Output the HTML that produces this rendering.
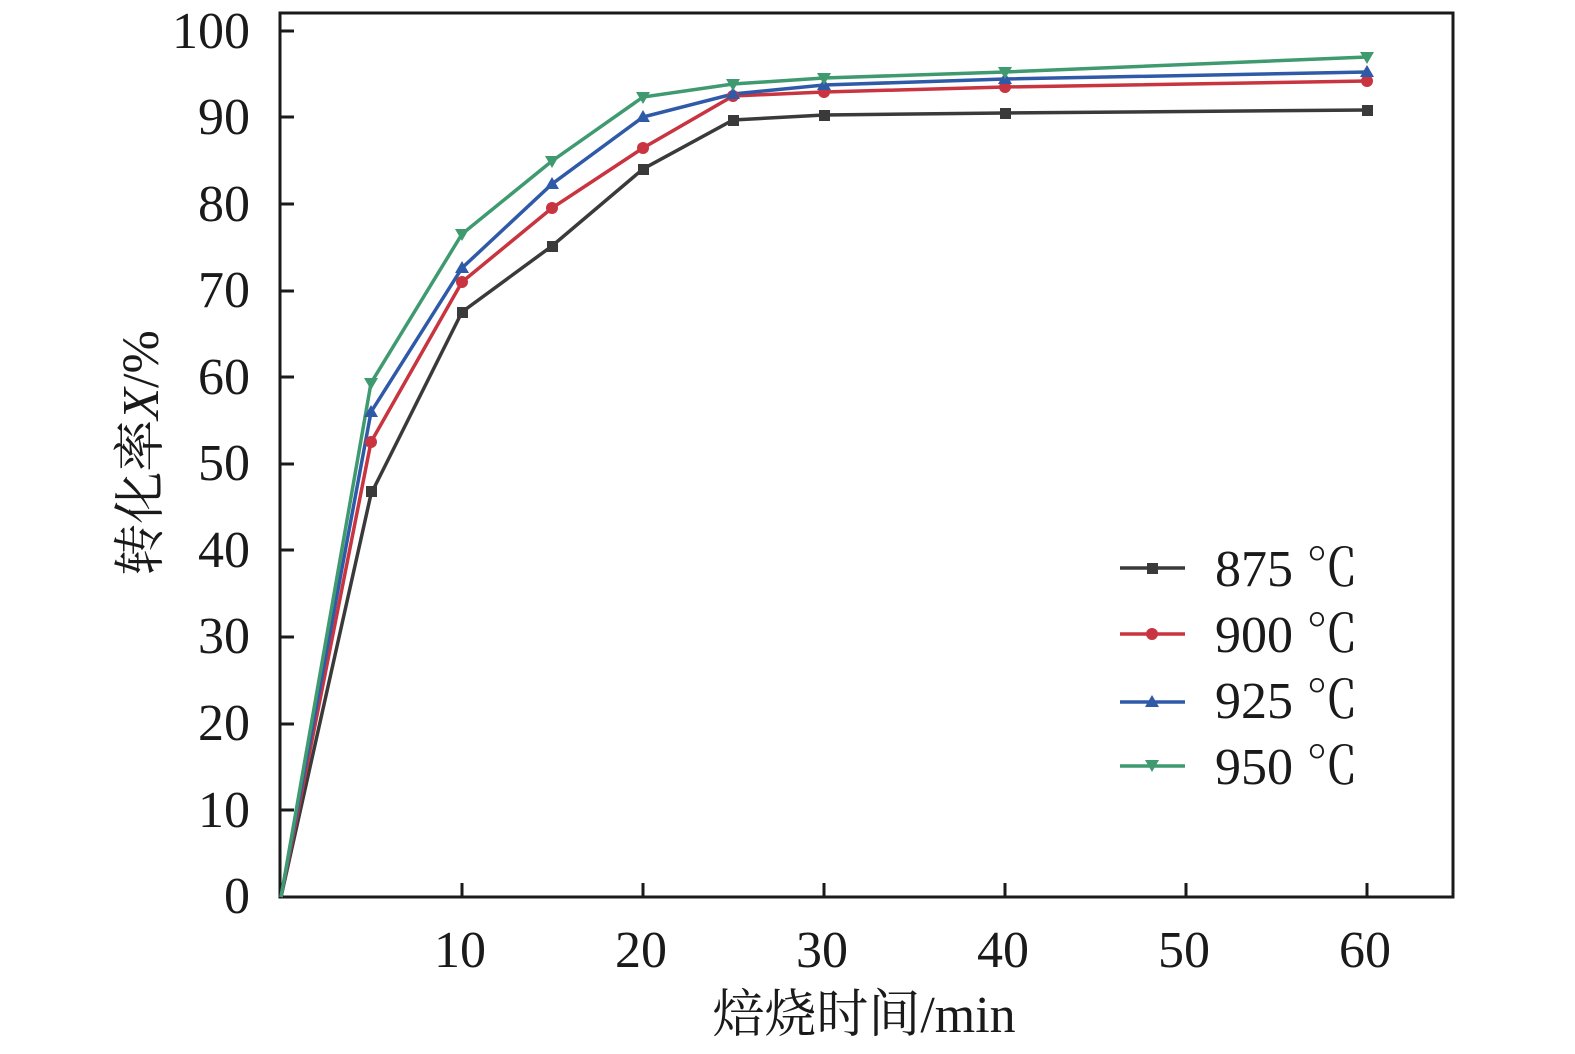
<!DOCTYPE html>
<html><head><meta charset="utf-8"><style>html,body{margin:0;padding:0;background:#fff}svg{display:block}</style></head><body>
<svg width="1575" height="1054" xmlns="http://www.w3.org/2000/svg" style="font-family:'Liberation Serif','Noto Serif CJK SC',serif">
<rect x="0" y="0" width="1575" height="1054" fill="#fff"/>
<g stroke="#1a1a1a" stroke-width="3" fill="none">
<rect x="280" y="13" width="1173" height="884"/>
<path d="M280 810h14M280 724h14M280 637h14M280 550h14M280 464h14M280 377h14M280 291h14M280 204h14M280 117h14M280 31h14"/>
<path d="M462 897v-14M643 897v-14M824 897v-14M1005 897v-14M1186 897v-14M1367 897v-14"/>
</g>
<g font-size="52" fill="#1a1a1a" text-anchor="end">
<text x="250" y="913">0</text><text x="250" y="827">10</text><text x="250" y="740">20</text><text x="250" y="653">30</text><text x="250" y="567">40</text><text x="250" y="480">50</text><text x="250" y="394">60</text><text x="250" y="307">70</text><text x="250" y="221">80</text><text x="250" y="134">90</text><text x="250" y="48">100</text>
</g>
<g font-size="52" fill="#1a1a1a" text-anchor="middle">
<text x="460" y="967">10</text><text x="641" y="967">20</text><text x="822" y="967">30</text><text x="1003" y="967">40</text><text x="1184" y="967">50</text><text x="1365" y="967">60</text>
<text x="864" y="1032">焙烧时间/min</text>
</g>
<text transform="translate(158,453) rotate(-90)" font-size="52" fill="#1a1a1a" text-anchor="middle">转化率<tspan font-style="italic">X</tspan>/%</text>
<g fill="none" stroke-width="3.5">
<polyline stroke="#3a3a3a" points="281,897 371,494 462,312 552,246 643,169 733,120 824,115 1005,113 1367,110"/>
<polyline stroke="#c8343f" points="281,897 371,442 462,282 552,208 643,148 733,96 824,92 1005,87 1367,81"/>
<polyline stroke="#2f5aa8" points="281,897 371,412 462,268 552,184 643,117 733,94 824,85 1005,79 1367,72"/>
<polyline stroke="#3f9a70" points="281,897 371,383 462,234 552,161 643,97 733,84 824,78 1005,72 1367,57"/>
</g>
<g fill="#3a3a3a"><rect x="366" y="486" width="11" height="11"/><rect x="457" y="307" width="11" height="11"/><rect x="547" y="241" width="11" height="11"/><rect x="638" y="164" width="11" height="11"/><rect x="728" y="115" width="11" height="11"/><rect x="819" y="110" width="11" height="11"/><rect x="1000" y="108" width="11" height="11"/><rect x="1362" y="105" width="11" height="11"/></g>
<g fill="#c8343f"><circle cx="371" cy="442" r="6"/><circle cx="462" cy="282" r="6"/><circle cx="552" cy="208" r="6"/><circle cx="643" cy="148" r="6"/><circle cx="733" cy="96" r="6"/><circle cx="824" cy="92" r="6"/><circle cx="1005" cy="87" r="6"/><circle cx="1367" cy="81" r="6"/></g>
<g fill="#2f5aa8"><path d="M371 405l7 12h-14zM462 261l7 12h-14zM552 177l7 12h-14zM643 110l7 12h-14zM733 87l7 12h-14zM824 78l7 12h-14zM1005 72l7 12h-14zM1367 65l7 12h-14z"/></g>
<g fill="#3f9a70"><path d="M371 390l7 -12h-14zM462 241l7 -12h-14zM552 168l7 -12h-14zM643 104l7 -12h-14zM733 91l7 -12h-14zM824 85l7 -12h-14zM1005 79l7 -12h-14zM1367 64l7 -12h-14z"/></g>
<g stroke-width="3.5">
<line x1="1120" y1="568" x2="1185" y2="568" stroke="#3a3a3a"/><rect x="1147" y="563" width="11" height="11" fill="#3a3a3a"/>
<line x1="1120" y1="634" x2="1185" y2="634" stroke="#c8343f"/><circle cx="1152" cy="634" r="6" fill="#c8343f"/>
<line x1="1120" y1="702" x2="1185" y2="702" stroke="#2f5aa8"/><path d="M1152 695l7 12h-14z" fill="#2f5aa8"/>
<line x1="1120" y1="766" x2="1185" y2="766" stroke="#3f9a70"/><path d="M1152 772l7 -12h-14z" fill="#3f9a70"/>
</g>
<g font-size="52" fill="#1a1a1a">
<text x="1215" y="586">875 ℃</text><text x="1215" y="652">900 ℃</text><text x="1215" y="718">925 ℃</text><text x="1215" y="784">950 ℃</text>
</g>
</svg>
</body></html>
